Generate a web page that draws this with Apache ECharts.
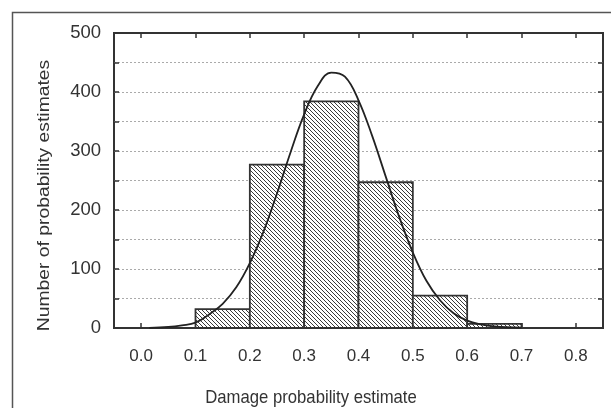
<!DOCTYPE html>
<html>
<head>
<meta charset="utf-8">
<script src="https://cdn.jsdelivr.net/npm/echarts@6/dist/echarts.min.js"></script>
<style>
  html, body { margin: 0; padding: 0; background: #fff; }
  #chart { width: 611px; height: 408px; }
</style>
</head>
<body>
<div id="chart"></div>
<script>
// histogram bins
const binStart = [0.1, 0.2, 0.3, 0.4, 0.5, 0.6];
const binEnd = [0.2, 0.3, 0.4, 0.5, 0.6, 0.7];
const binCounts = [32, 277, 384, 247, 55, 7];

// fitted curve
const curveX = [0.015, 0.05, 0.075, 0.1, 0.125, 0.15, 0.175, 0.2, 0.225, 0.25, 0.275, 0.3, 0.325,
  0.35, 0.375, 0.4, 0.425, 0.45, 0.475, 0.5, 0.525, 0.55, 0.575, 0.6, 0.625, 0.65, 0.7];
const curveY = [0.3, 1.8, 4.5, 9, 23, 41, 69, 110, 163, 228, 298, 362, 410,
  433, 426, 386, 326, 257, 188, 128, 80, 47, 25, 12.5, 6, 2.6, 0.5];

// tick labels
const xTicks = [0, 0.1, 0.2, 0.3, 0.4, 0.5, 0.6, 0.7, 0.8];
const yLabels = [0, 100, 200, 300, 400, 500];

const FONT = '"Liberation Sans", Arial, sans-serif';
const INK = '#333';
const CLEAR = 'rgba(0,0,0,0)';

/** diagonal hatch fill */
function hatch() {
  const c = document.createElement('canvas');
  c.width = 4;
  c.height = 4;
  const g = c.getContext('2d');
  g.fillStyle = '#fff';
  g.fillRect(0, 0, 4, 4);
  g.strokeStyle = '#3a3a3a';
  g.lineWidth = 1;
  g.beginPath();
  g.moveTo(-1, -1); g.lineTo(5, 5);
  g.moveTo(-1, 3); g.lineTo(1, 5);
  g.moveTo(3, -1); g.lineTo(5, 1);
  g.stroke();
  return { image: c, repeat: 'repeat' };
}
const hatchFill = hatch();

const chart = echarts.init(document.getElementById('chart'));

const xBase = {
  type: 'value',
  min: -0.05,
  max: 0.85,
  axisLine: { show: false, onZero: false },
  splitLine: { show: false },
  axisTick: { inside: true, length: 5, lineStyle: { color: INK, width: 1.5 }, customValues: xTicks }
};
const yBase = {
  type: 'value',
  min: 0,
  max: 500,
  interval: 50,
  axisLine: { show: false, onZero: false },
  axisTick: { inside: true, length: 5, lineStyle: { color: INK, width: 1.5 } }
};

// no dotted line on the frame itself (0 and 500)
const gridColors = [CLEAR, '#aaa', '#aaa', '#aaa', '#aaa', '#aaa', '#aaa', '#aaa', '#aaa', '#aaa', CLEAR];

chart.setOption({
  animation: false,
  grid: {
    left: 114, right: 8, top: 33, bottom: 80,
    show: true, borderColor: INK, borderWidth: 2, backgroundColor: 'transparent'
  },
  graphic: [
    {
      type: 'rect',
      shape: { x: 12.5, y: 12.5, width: 700, height: 500 },
      style: { fill: 'none', stroke: '#555', lineWidth: 1.5 },
      silent: true
    },
    {
      type: 'text',
      x: 311, y: 398,
      scaleY: 1.15,
      style: {
        text: 'Damage probability estimate',
        font: '16.7px ' + FONT,
        fill: INK,
        textAlign: 'center',
        textVerticalAlign: 'middle'
      }
    },
    {
      type: 'text',
      x: 44, y: 195.5,
      rotation: Math.PI / 2,
      scaleX: 1.17,
      style: {
        text: 'Number of probability estimates',
        font: '16.5px ' + FONT,
        fill: INK,
        textAlign: 'center',
        textVerticalAlign: 'middle'
      }
    }
  ],
  xAxis: [
    Object.assign({}, xBase, {
      position: 'bottom',
      axisLabel: {
        customValues: xTicks,
        margin: 20,
        fontSize: 17,
        fontFamily: FONT,
        color: INK,
        formatter: (v) => v.toFixed(1)
      }
    }),
    Object.assign({}, xBase, { position: 'top', axisLabel: { show: false } })
  ],
  yAxis: [
    Object.assign({}, yBase, {
      position: 'left',
      splitLine: { show: true, lineStyle: { color: gridColors, type: [2, 2], width: 1 } },
      axisLabel: { customValues: yLabels, margin: 13, fontSize: 18.5, fontFamily: FONT, color: INK }
    }),
    Object.assign({}, yBase, { position: 'right', splitLine: { show: false }, axisLabel: { show: false } })
  ],
  series: [
    {
      type: 'custom',
      xAxisIndex: 0,
      yAxisIndex: 0,
      data: binCounts.map((n, i) => [binStart[i], binEnd[i], n]),
      encode: { x: [0, 1], y: 2 },
      renderItem: (params, api) => {
        const a = api.coord([api.value(0), api.value(2)]);
        const b = api.coord([api.value(1), 0]);
        return {
          type: 'rect',
          shape: { x: a[0], y: a[1], width: b[0] - a[0], height: b[1] - a[1] },
          style: { fill: hatchFill, stroke: INK, lineWidth: 1.8 }
        };
      },
      z: 2
    },
    {
      type: 'line',
      data: curveX.map((x, i) => [x, curveY[i]]),
      smooth: 0.4,
      showSymbol: false,
      lineStyle: { color: '#222', width: 1.8 },
      z: 3
    }
  ]
});
</script>
</body>
</html>
